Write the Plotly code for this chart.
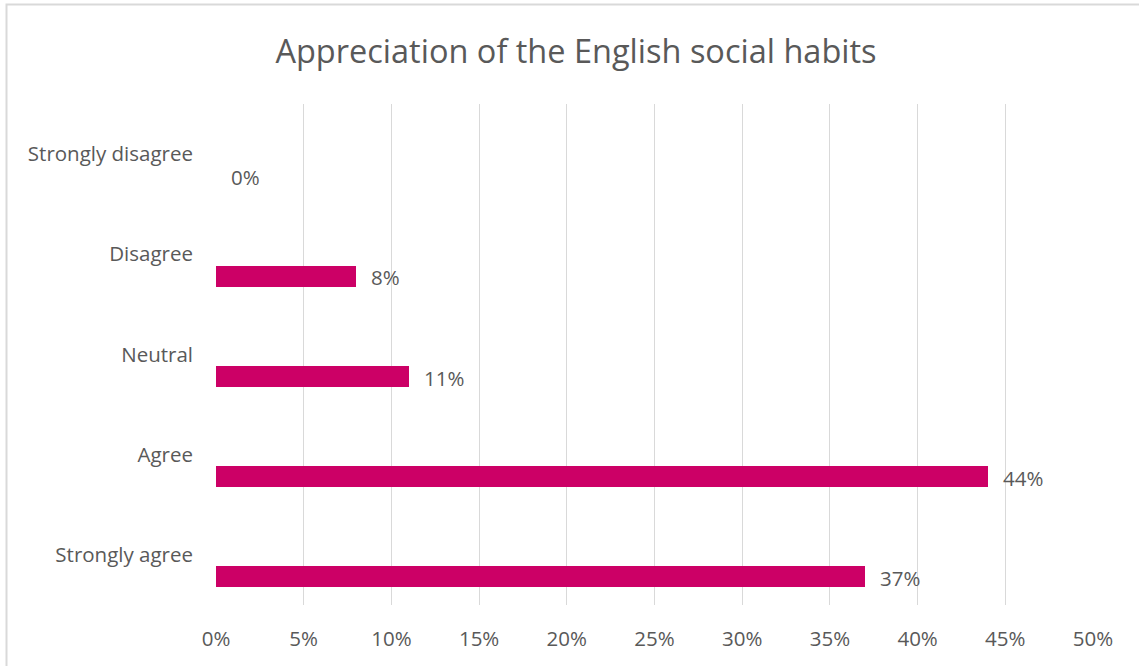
import plotly.graph_objects as go

# Survey responses, listed top to bottom
categories = ["Strongly disagree", "Disagree", "Neutral", "Agree", "Strongly agree"]
shares = [0.00, 0.08, 0.11, 0.44, 0.37]
tick_values = [0, 0.05, 0.10, 0.15, 0.20, 0.25, 0.30, 0.35, 0.40, 0.45, 0.50]
tick_labels = ["0%", "5%", "10%", "15%", "20%", "25%", "30%", "35%", "40%", "45%", "50%"]

W, H = 1139, 666
ML, MR, MT, MB = 216, 46, 104, 61
PW, PH = W - ML - MR, H - MT - MB
TEXT = "#595959"
GRID = "#D9D9D9"
BAR = "#CC0066"
FONT = "Open Sans"
LABEL_SIZE = 20.5


def px_to_paper_x(px):
    return (px - ML) / PW


def px_to_paper_y(py):
    return (H - MB - py) / PH


fig = go.Figure()
fig.add_trace(go.Bar(
    x=shares,
    y=categories,
    orientation="h",
    width=0.21,
    offset=0.115,
    marker=dict(color=BAR, line=dict(width=0)),
    hoverinfo="skip",
))

# value labels beside each bar end
for cat, v in zip(categories, shares):
    fig.add_annotation(
        x=v, y=cat, xref="x", yref="y",
        text=f"{round(v * 100)}%",
        showarrow=False, xanchor="left", yanchor="middle",
        xshift=13, yshift=-23,
        font=dict(family=FONT, size=LABEL_SIZE, color=TEXT),
    )

# light frame round the chart area
fig.add_shape(
    type="rect", xref="paper", yref="paper",
    x0=px_to_paper_x(6.5), x1=px_to_paper_x(W + 40),
    y0=px_to_paper_y(H + 40), y1=px_to_paper_y(4.5),
    line=dict(color=GRID, width=2), fillcolor="rgba(0,0,0,0)", layer="above",
)

fig.update_layout(
    width=W, height=H,
    paper_bgcolor="white", plot_bgcolor="white",
    margin=dict(l=ML, r=MR, t=MT, b=MB),
    showlegend=False,
    bargap=0,
    title=dict(
        text="Appreciation of the English social habits",
        x=576 / W, xanchor="center", y=1 - 52 / H, yanchor="middle",
        font=dict(family=FONT, size=32.5, color=TEXT),
    ),
    xaxis=dict(
        range=[0, 0.5], tickvals=tick_values, ticktext=tick_labels,
        showgrid=True, gridcolor=GRID, gridwidth=1.3,
        zeroline=False, showline=False, ticks="",
        tickfont=dict(family=FONT, size=LABEL_SIZE, color=TEXT),
        ticklabelstandoff=19,
    ),
    yaxis=dict(
        categoryorder="array", categoryarray=categories,
        autorange="reversed",
        showgrid=False, zeroline=False, showline=False, ticks="",
        tickfont=dict(family=FONT, size=LABEL_SIZE, color=TEXT),
        ticklabelstandoff=22,
    ),
)

fig.write_html("out.html")
